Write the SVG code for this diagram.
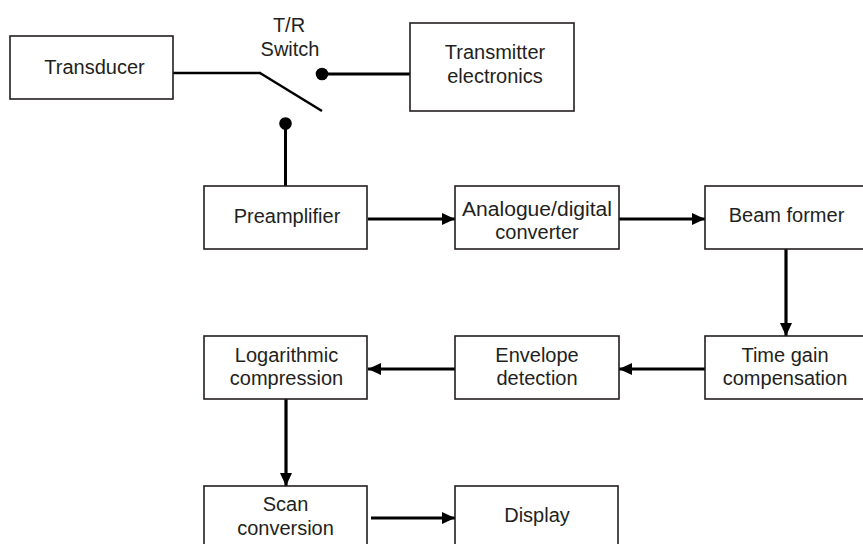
<svg xmlns="http://www.w3.org/2000/svg" width="863" height="544" viewBox="0 0 863 544">
  <style>
    .box { fill: #ffffff; stroke: #231f20; stroke-width: 1.6; }
    .lbl { font-family: "Liberation Sans", Arial, Helvetica, sans-serif; font-size: 20px; fill: #231f20; text-anchor: middle; }
    .wire { stroke: #000000; stroke-width: 3; fill: none; }
    .thin { stroke: #000000; stroke-width: 2.5; fill: none; }
    .arrow { stroke: #000000; stroke-width: 3.2; fill: none; marker-end: url(#ah); }
    .dot { fill: #000000; }
  </style>
  <defs>
    <marker id="ah" markerUnits="userSpaceOnUse" markerWidth="14" markerHeight="13" refX="13" refY="6" orient="auto">
      <path d="M0,0 L13,6 L0,12 z" fill="#000000"/>
    </marker>
  </defs>
  <rect width="863" height="544" fill="#ffffff"/>

  <g id="connectors">
    <line class="thin" x1="173" y1="73" x2="261" y2="73"/>
    <line class="thin" x1="260" y1="73" x2="322" y2="111" stroke-width="2.2"/>
    <line class="wire" x1="322" y1="74" x2="410" y2="74"/>
    <circle class="dot" cx="322" cy="74" r="6.3"/>
    <line class="wire" x1="285.5" y1="124" x2="285.5" y2="186"/>
    <circle class="dot" cx="285.5" cy="123.5" r="6.3"/>
    <line class="arrow" x1="368" y1="219" x2="455" y2="219"/>
    <line class="arrow" x1="619" y1="219" x2="705" y2="219"/>
    <line class="arrow" x1="786" y1="249" x2="786" y2="336"/>
    <line class="arrow" x1="705" y1="369" x2="619" y2="369"/>
    <line class="arrow" x1="455" y1="369" x2="368" y2="369"/>
    <line class="arrow" x1="286" y1="399" x2="286" y2="486"/>
    <line class="arrow" x1="371" y1="518" x2="455" y2="518"/>
  </g>

  <g id="tr-switch">
    <text class="lbl" x="289" y="32">T/R</text>
    <text class="lbl" x="290" y="56">Switch</text>
  </g>

  <g id="transducer">
    <rect class="box" x="10" y="36" width="163" height="63"/>
    <text class="lbl" x="94.5" y="74">Transducer</text>
  </g>

  <g id="transmitter">
    <rect class="box" x="410" y="23" width="164" height="88"/>
    <text class="lbl" x="495" y="59">Transmitter</text>
    <text class="lbl" x="495" y="83">electronics</text>
  </g>

  <g id="preamplifier">
    <rect class="box" x="204" y="186" width="163" height="63"/>
    <text class="lbl" x="287" y="223">Preamplifier</text>
  </g>

  <g id="adc">
    <rect class="box" x="455" y="186" width="164" height="63"/>
    <text class="lbl" x="537" y="216" textLength="150" lengthAdjust="spacingAndGlyphs">Analogue/digital</text>
    <text class="lbl" x="537" y="239">converter</text>
  </g>

  <g id="beam-former">
    <rect class="box" x="705" y="186" width="163" height="63"/>
    <text class="lbl" x="786.5" y="222">Beam former</text>
  </g>

  <g id="tgc">
    <rect class="box" x="705" y="336" width="163" height="63"/>
    <text class="lbl" x="785" y="362">Time gain</text>
    <text class="lbl" x="785" y="385">compensation</text>
  </g>

  <g id="envelope">
    <rect class="box" x="455" y="336" width="164" height="63"/>
    <text class="lbl" x="537" y="362">Envelope</text>
    <text class="lbl" x="537" y="385">detection</text>
  </g>

  <g id="log-compression">
    <rect class="box" x="204" y="336" width="163" height="63"/>
    <text class="lbl" x="286.5" y="362">Logarithmic</text>
    <text class="lbl" x="286.5" y="385">compression</text>
  </g>

  <g id="scan-conversion">
    <rect class="box" x="204" y="486" width="163" height="63"/>
    <text class="lbl" x="285.5" y="511">Scan</text>
    <text class="lbl" x="285.5" y="535">conversion</text>
  </g>

  <g id="display">
    <rect class="box" x="455" y="486" width="163" height="63"/>
    <text class="lbl" x="537" y="522">Display</text>
  </g>
</svg>
